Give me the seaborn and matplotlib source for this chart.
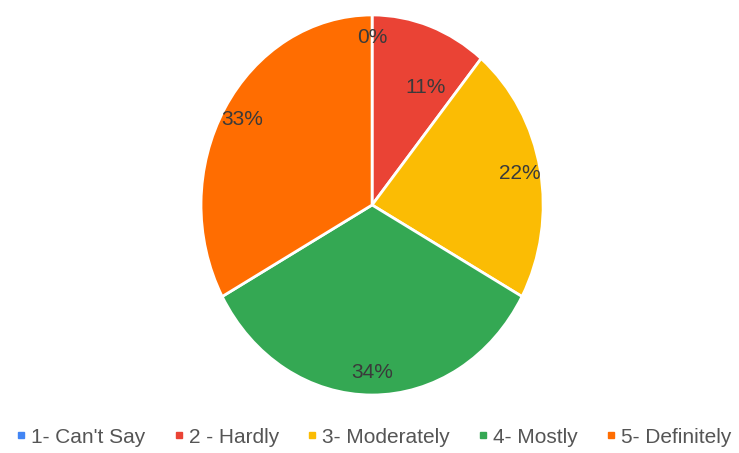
import matplotlib
matplotlib.use("Agg")
import matplotlib.pyplot as plt
import seaborn as sns
from matplotlib.lines import Line2D

labels = ["1- Can't Say", "2 - Hardly", "3- Moderately", "4- Mostly", "5- Definitely"]
shares = [0, 11, 22, 34, 33]
colors = ["#4285F4", "#EA4335", "#FBBC04", "#34A853", "#FF6D01"]

sns.set_theme(style="white")
plt.rcParams['font.family'] = ['Liberation Sans', 'DejaVu Sans']

fig = plt.figure(figsize=(7.39, 4.53), dpi=100)
ax = fig.add_axes([0.272, 0.128, 0.463, 0.839])

wedges, texts, autotexts = ax.pie(
    shares, colors=colors, startangle=90, counterclock=False,
    autopct=lambda p: f"{p:.0f}%", pctdistance=0.88,
    wedgeprops=dict(edgecolor="white", linewidth=2),
    textprops=dict(color="#3a3a3a", fontsize=15),
)
# narrow slice: label pulled inward like the original
autotexts[1].set_position((0.31, 0.62))
autotexts[0].set_position((0.0, 0.88))
ax.set_aspect("auto")
ax.set_xlim(-1, 1)
ax.set_ylim(-1, 1)

handles = [Line2D([0], [0], marker="s", linestyle="", markersize=4,
                  markerfacecolor=c, markeredgecolor=c) for c in colors]
fig.legend(handles, labels, loc="center", bbox_to_anchor=(0.505, 0.035), ncol=5,
           frameon=False, fontsize=15, handletextpad=0.18, columnspacing=1.3,
           handlelength=0.6, labelcolor="#555555")

fig.savefig("out.png", dpi=100)
